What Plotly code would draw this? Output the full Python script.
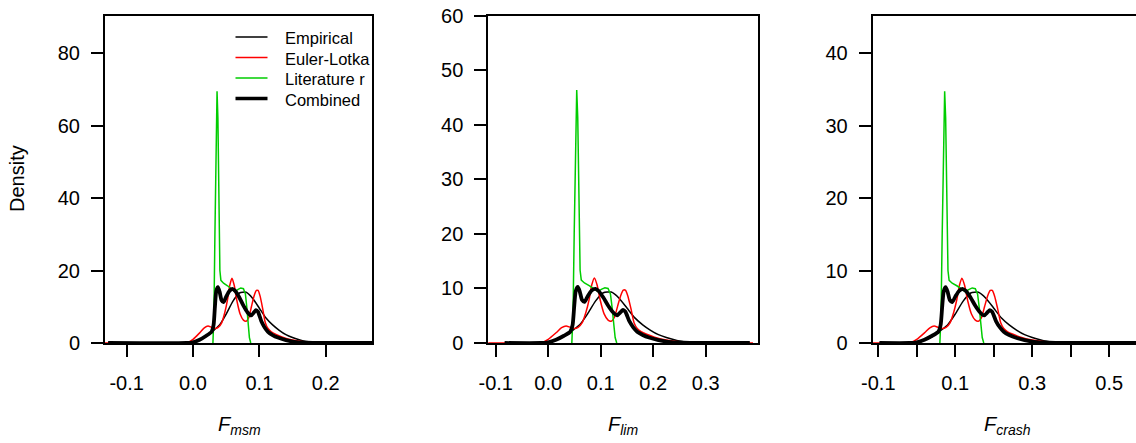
import plotly.graph_objects as go

# ---------------- data ----------------
# Panel 1: F_msm
msm_emp_x = [-0.128, -0.01, 0.0, 0.01, 0.02, 0.03, 0.04, 0.05, 0.06, 0.07, 0.08, 0.09, 0.10, 0.11, 0.12, 0.13, 0.14, 0.15, 0.16, 0.17, 0.18, 0.20, 0.256]
msm_emp_y = [0, 0, 0.3, 0.8, 1.8, 3.3, 5.0, 8.0, 11.5, 13.8, 14.0, 12.3, 9.6, 6.9, 5.0, 3.5, 2.3, 1.5, 0.9, 0.4, 0.2, 0.05, 0]
msm_el_x = [-0.133, -0.02, -0.007, 0.0, 0.01, 0.017, 0.0226, 0.028, 0.033, 0.038, 0.043, 0.048, 0.052, 0.0555, 0.0587, 0.062, 0.066, 0.071, 0.076, 0.080, 0.084, 0.088, 0.092, 0.0955, 0.098, 0.101, 0.105, 0.109, 0.113, 0.118, 0.125, 0.135, 0.15, 0.17, 0.20, 0.26]
msm_el_y = [0, 0, 0.2, 1.0, 2.8, 4.2, 4.7, 4.3, 4.0, 4.3, 5.5, 8.5, 12.0, 16.0, 17.9, 16.0, 11.8, 8.0, 6.3, 6.0, 7.0, 10.0, 13.0, 14.5, 14.5, 13.0, 9.5, 5.6, 4.0, 3.1, 2.4, 1.6, 0.8, 0.3, 0.05, 0]
msm_lit_x = [0.030, 0.0315, 0.033, 0.0345, 0.0362, 0.0375, 0.039, 0.0405, 0.042, 0.046, 0.052, 0.058, 0.063, 0.068, 0.072, 0.076, 0.079, 0.081, 0.083, 0.085, 0.087]
msm_lit_y = [0, 8, 30, 55, 69.5, 62, 38, 20, 17.3, 16.5, 15.8, 14.8, 14.2, 14.8, 15.2, 15.0, 13.5, 10, 5, 1.5, 0]
msm_comb_x = [-0.128, -0.01, 0.0, 0.01, 0.02, 0.028, 0.031, 0.033, 0.035, 0.0376, 0.040, 0.043, 0.046, 0.050, 0.055, 0.060, 0.064, 0.070, 0.076, 0.082, 0.0875, 0.092, 0.095, 0.098, 0.103, 0.108, 0.113, 0.120, 0.128, 0.140, 0.150, 0.165, 0.18, 0.27]
msm_comb_y = [0, 0, 0.2, 0.9, 2.0, 3.1, 5.0, 10.0, 14.3, 15.4, 14.2, 11.8, 11.3, 12.8, 14.4, 14.9, 14.3, 12.5, 10.3, 8.5, 7.6, 8.5, 9.1, 8.6, 6.0, 4.3, 3.1, 2.2, 1.5, 0.8, 0.4, 0.15, 0.05, 0]

# Panel 2: F_lim
lim_emp_x = [-0.083, -0.015, 0.0, 0.015, 0.03, 0.045, 0.06, 0.075, 0.09, 0.105, 0.12, 0.135, 0.15, 0.165, 0.18, 0.195, 0.21, 0.225, 0.24, 0.255, 0.27, 0.30, 0.384]
lim_emp_y = [0, 0, 0.2, 0.53, 1.2, 2.2, 3.33, 5.33, 7.67, 9.2, 9.33, 8.2, 6.4, 4.6, 3.33, 2.33, 1.53, 1.0, 0.6, 0.27, 0.13, 0.03, 0]
lim_el_x = [-0.12, -0.03, -0.0105, 0.0, 0.015, 0.0255, 0.034, 0.042, 0.0495, 0.057, 0.0645, 0.072, 0.078, 0.083, 0.088, 0.093, 0.099, 0.1065, 0.114, 0.12, 0.126, 0.132, 0.138, 0.143, 0.147, 0.1515, 0.1575, 0.1635, 0.1695, 0.177, 0.1875, 0.2025, 0.225, 0.255, 0.30, 0.39]
lim_el_y = [0, 0, 0.13, 0.67, 1.87, 2.8, 3.13, 2.87, 2.67, 2.87, 3.67, 5.67, 8.0, 10.67, 11.93, 10.67, 7.87, 5.33, 4.2, 4.0, 4.67, 6.67, 8.67, 9.67, 9.67, 8.67, 6.33, 3.73, 2.67, 2.07, 1.6, 1.07, 0.53, 0.2, 0.03, 0]
lim_lit_x = [0.045, 0.04725, 0.0495, 0.05175, 0.0543, 0.05625, 0.0585, 0.06075, 0.063, 0.069, 0.078, 0.087, 0.0945, 0.102, 0.108, 0.114, 0.1185, 0.1215, 0.1245, 0.1275, 0.1305]
lim_lit_y = [0, 5.33, 20, 36.67, 46.33, 41.33, 25.33, 13.33, 11.53, 11.0, 10.53, 9.87, 9.47, 9.87, 10.13, 10.0, 9.0, 6.67, 3.33, 1.0, 0]
lim_comb_x = [-0.083, -0.015, 0.0, 0.015, 0.03, 0.042, 0.0465, 0.0495, 0.0525, 0.0564, 0.06, 0.0645, 0.069, 0.075, 0.0825, 0.09, 0.096, 0.105, 0.114, 0.123, 0.131, 0.138, 0.1425, 0.147, 0.1545, 0.162, 0.1695, 0.18, 0.192, 0.21, 0.225, 0.2475, 0.27, 0.384]
lim_comb_y = [0, 0, 0.13, 0.6, 1.33, 2.07, 3.33, 6.67, 9.53, 10.27, 9.47, 7.87, 7.53, 8.53, 9.6, 9.93, 9.53, 8.33, 6.87, 5.67, 5.07, 5.67, 6.07, 5.73, 4.0, 2.87, 2.07, 1.47, 1.0, 0.53, 0.27, 0.1, 0.03, 0]

# Panel 3: F_crash
crash_emp_x = [-0.097, -0.02, 0.0, 0.02, 0.04, 0.06, 0.08, 0.10, 0.12, 0.14, 0.16, 0.18, 0.20, 0.22, 0.24, 0.26, 0.28, 0.30, 0.32, 0.34, 0.36, 0.40, 0.60]
crash_emp_y = [0, 0, 0.15, 0.4, 0.9, 1.65, 2.5, 4.0, 5.75, 6.9, 7.0, 6.15, 4.8, 3.45, 2.5, 1.75, 1.15, 0.75, 0.45, 0.2, 0.1, 0.03, 0]
crash_el_x = [-0.16, -0.04, -0.014, 0.0, 0.02, 0.034, 0.045, 0.056, 0.066, 0.076, 0.086, 0.096, 0.104, 0.111, 0.117, 0.124, 0.132, 0.142, 0.152, 0.16, 0.168, 0.176, 0.184, 0.191, 0.196, 0.202, 0.21, 0.218, 0.226, 0.236, 0.25, 0.27, 0.30, 0.34, 0.40, 0.52]
crash_el_y = [0, 0, 0.1, 0.5, 1.4, 2.1, 2.35, 2.15, 2.0, 2.15, 2.75, 4.25, 6.0, 8.0, 8.95, 8.0, 5.9, 4.0, 3.15, 3.0, 3.5, 5.0, 6.5, 7.25, 7.25, 6.5, 4.75, 2.8, 2.0, 1.55, 1.2, 0.8, 0.4, 0.15, 0.03, 0]
crash_lit_x = [0.06, 0.063, 0.066, 0.069, 0.0724, 0.075, 0.078, 0.081, 0.084, 0.092, 0.104, 0.116, 0.126, 0.136, 0.144, 0.152, 0.158, 0.162, 0.166, 0.17, 0.174]
crash_lit_y = [0, 4, 15, 27.5, 34.75, 31, 19, 10, 8.65, 8.25, 7.9, 7.4, 7.1, 7.4, 7.6, 7.5, 6.75, 5, 2.5, 0.75, 0]
crash_comb_x = [-0.097, -0.02, 0.0, 0.02, 0.04, 0.056, 0.062, 0.066, 0.07, 0.075, 0.08, 0.086, 0.092, 0.10, 0.11, 0.12, 0.128, 0.14, 0.152, 0.164, 0.175, 0.184, 0.19, 0.196, 0.206, 0.216, 0.226, 0.24, 0.256, 0.28, 0.30, 0.33, 0.36, 0.62]
crash_comb_y = [0, 0, 0.1, 0.45, 1.0, 1.55, 2.5, 5.0, 7.15, 7.7, 7.1, 5.9, 5.65, 6.4, 7.2, 7.45, 7.15, 6.25, 5.15, 4.25, 3.8, 4.25, 4.55, 4.3, 3.0, 2.15, 1.55, 1.1, 0.75, 0.4, 0.2, 0.08, 0.03, 0]

series_names = ["Empirical", "Euler-Lotka", "Literature r", "Combined"]

msm_xticks = [-0.1, 0.0, 0.1, 0.2]
msm_xticklabels = ["-0.1", "0.0", "0.1", "0.2"]
msm_yticks = [0, 20, 40, 60, 80]
lim_xticks = [-0.1, 0.0, 0.1, 0.2, 0.3]
lim_xticklabels = ["-0.1", "0.0", "0.1", "0.2", "0.3"]
lim_yticks = [0, 10, 20, 30, 40, 50, 60]
crash_xticks = [-0.1, 0.1, 0.3, 0.5]          # labelled ticks
crash_xticklabels = ["-0.1", "0.1", "0.3", "0.5"]
crash_xtick_step = 0.1                        # unlabelled ticks every 0.1
crash_yticks = [0, 10, 20, 30, 40]

x_titles = ["<i>F</i><sub><i>msm</i></sub>", "<i>F</i><sub><i>lim</i></sub>", "<i>F</i><sub><i>crash</i></sub>"]
y_title = "Density"

# ---------------- styling / layout ----------------
W, H = 1136, 443
FONT = "Liberation Sans, Arial, sans-serif"
colors = ["#000000", "#FF0000", "#00CD00", "#000000"]
widths = [1.5, 1.5, 1.5, 3.8]
shapes_kind = ["spline", "spline", "linear", "spline"]


def px(v):
    return v / W


def py(v):
    return 1 - v / H


panels = [
    dict(data=[(msm_emp_x, msm_emp_y), (msm_el_x, msm_el_y), (msm_lit_x, msm_lit_y), (msm_comb_x, msm_comb_y)],
         dom=(105, 372), xr=[-0.1327, 0.2698], yr=[0, 90.4],
         xt=msm_xticks, xtl=msm_xticklabels, yt=msm_yticks, right=True, minor=None),
    dict(data=[(lim_emp_x, lim_emp_y), (lim_el_x, lim_el_y), (lim_lit_x, lim_lit_y), (lim_comb_x, lim_comb_y)],
         dom=(488.3, 757.7), xr=[-0.1141, 0.399], yr=[0, 60.0],
         xt=lim_xticks, xtl=lim_xticklabels, yt=lim_yticks, right=True, minor=None),
    dict(data=[(crash_emp_x, crash_emp_y), (crash_el_x, crash_el_y), (crash_lit_x, crash_lit_y), (crash_comb_x, crash_comb_y)],
         dom=(872.7, 1136), xr=[-0.1145, 0.5694], yr=[0, 45.2],
         xt=crash_xticks, xtl=crash_xticklabels, yt=crash_yticks, right=False, minor=crash_xtick_step),
]

fig = go.Figure()
layout = dict(
    width=W, height=H, margin=dict(l=0, r=0, t=0, b=0, pad=0, autoexpand=False),
    paper_bgcolor="white", plot_bgcolor="white",
    font=dict(family=FONT, color="black", size=20),
    showlegend=False,
)
ydom = [py(343), py(15.5)]
annotations = []
shapes = []
for i, p in enumerate(panels):
    sfx = "" if i == 0 else str(i + 1)
    for k, (xs, ys) in enumerate(p["data"]):
        fig.add_trace(go.Scatter(
            x=xs, y=ys, mode="lines", name=series_names[k],
            line=dict(color=colors[k], width=widths[k], shape=shapes_kind[k], smoothing=0.6),
            xaxis="x" + sfx, yaxis="y" + sfx, hoverinfo="skip"))
    xa = dict(
        domain=[px(p["dom"][0]), px(p["dom"][1])], range=p["xr"], anchor="y" + sfx,
        showline=True, linecolor="black", linewidth=2, mirror=True,
        ticks="outside", ticklen=12, tickwidth=2, tickcolor="black",
        tickvals=p["xt"], ticktext=p["xtl"], tickfont=dict(size=20, family=FONT, color="black"),
        ticklabelstandoff=9, showgrid=False, zeroline=False, fixedrange=True, automargin=False)
    if p["minor"]:
        xa["minor"] = dict(dtick=p["minor"], tick0=0, ticks="outside", ticklen=12, tickwidth=2,
                           tickcolor="black", showgrid=False)
    layout["xaxis" + sfx] = xa
    layout["yaxis" + sfx] = dict(
        domain=ydom, range=p["yr"], anchor="x" + sfx,
        showline=True, linecolor="black", linewidth=2, mirror=p["right"],
        ticks="outside", ticklen=12, tickwidth=2, tickcolor="black",
        tickvals=p["yt"], ticktext=[str(v) for v in p["yt"]],
        tickfont=dict(size=20, family=FONT, color="black"),
        ticklabelstandoff=7, showgrid=False, zeroline=False, fixedrange=True, automargin=False)
    cx = (p["dom"][0] + min(p["dom"][0] + 269.4, 1142)) / 2
    annotations.append(dict(text=x_titles[i], x=px(cx), y=py(425), xref="paper", yref="paper",
                            xanchor="center", yanchor="middle", showarrow=False,
                            font=dict(size=20, family=FONT, color="black")))

annotations.append(dict(text=y_title, x=px(17), y=py(179), xref="paper", yref="paper",
                        textangle=-90, xanchor="center", yanchor="middle", showarrow=False,
                        font=dict(size=20, family=FONT, color="black")))

# legend (panel 1, top right)
leg_rows = [37, 57.5, 78, 98.5]
for k, name in enumerate(series_names):
    shapes.append(dict(type="line", xref="paper", yref="paper",
                       x0=px(235.5), x1=px(267.5), y0=py(leg_rows[k]), y1=py(leg_rows[k]),
                       line=dict(color=colors[k], width=widths[k] if k < 3 else 3.5)))
    annotations.append(dict(text=name, x=px(283), y=py(leg_rows[k] + 1), xref="paper", yref="paper",
                            xanchor="left", yanchor="middle", showarrow=False,
                            font=dict(size=16.5, family=FONT, color="black")))

layout["annotations"] = annotations
layout["shapes"] = shapes
fig.update_layout(**layout)
fig.write_html("out.html", config={"displayModeBar": False})
